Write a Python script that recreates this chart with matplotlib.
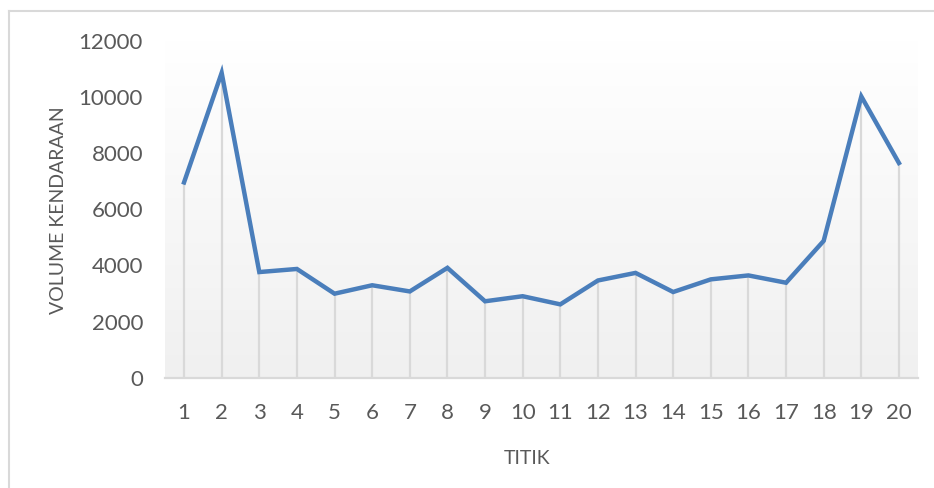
import numpy as np
import matplotlib
matplotlib.use('Agg')
import matplotlib.pyplot as plt
from matplotlib.lines import Line2D

# data
titik = list(range(1, 21))
volume = [6950, 10850, 3760, 3870, 2990, 3290, 3070, 3910, 2720, 2900,
          2610, 3460, 3730, 3050, 3500, 3640, 3380, 4870, 10010, 7640]
y_ticks = [0, 2000, 4000, 6000, 8000, 10000, 12000]

plt.rcParams['font.family'] = ['Lato', 'DejaVu Sans']
text_color = '#595959'

fig = plt.figure(figsize=(9.34, 4.88), dpi=100)
ax = fig.add_axes([0.1769, 0.2260, 0.8057, 0.6910])

ax.set_xlim(0.5, 20.5)
ax.set_ylim(0, 12000)

# gradient background in the plot area (white on top, light grey at bottom)
grad = np.linspace(1.0, 0.0, 256).reshape(-1, 1)
cmap = matplotlib.colors.LinearSegmentedColormap.from_list('g', ['#f0f0f0', '#ffffff'])
ax.imshow(grad, extent=(0.5, 20.5, 0, 12000), aspect='auto', cmap=cmap,
          vmin=0, vmax=1, zorder=0, origin='upper')

# drop lines
ax.vlines(titik, 0, volume, color='#d9d9d9', lw=1.6, zorder=1)
ax.plot(titik, volume, color='#4a7ebb', lw=3.2, zorder=3, solid_joinstyle='miter')

for s in ['top', 'right', 'left']:
    ax.spines[s].set_visible(False)
ax.spines['bottom'].set_color('#d9d9d9')
ax.spines['bottom'].set_linewidth(1.6)
ax.spines['bottom'].set_zorder(2)

ax.set_xticks(titik)
ax.set_yticks(y_ticks)
ax.tick_params(axis='both', length=0, labelsize=16, colors=text_color)
ax.tick_params(axis='y', pad=16)
ax.tick_params(axis='x', pad=18)

fig.text(59 / 934, 1 - 210 / 488, 'VOLUME KENDARAAN', rotation=90, ha='center', va='center',
         fontsize=14, color=text_color)
fig.text(527 / 934, 1 - 458 / 488, 'TITIK', ha='center', va='center', fontsize=14, color=text_color)

# chart border (top and left visible)
fig.add_artist(Line2D([9 / 934, 1], [1 - 11 / 488, 1 - 11 / 488], color='#d9d9d9', lw=1.5, transform=fig.transFigure))
fig.add_artist(Line2D([9 / 934, 9 / 934], [1 - 11 / 488, 0], color='#d9d9d9', lw=1.5, transform=fig.transFigure))

fig.savefig('out.png', dpi=100)
